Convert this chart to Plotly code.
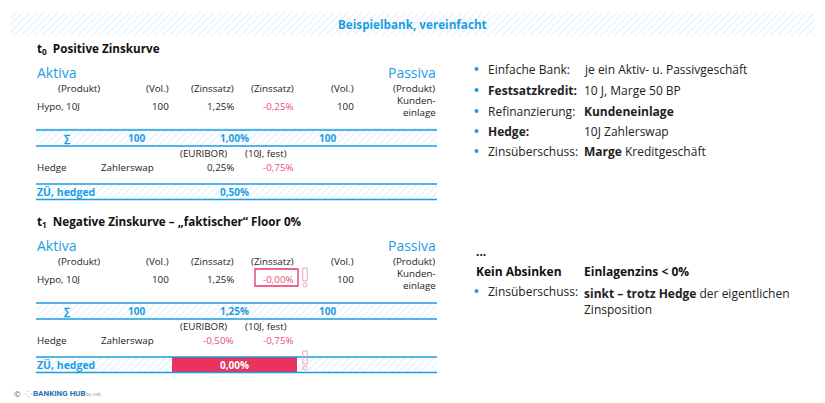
import plotly.graph_objects as go

# ---------------- data ----------------
title = "Beispielbank, vereinfacht"
section_titles = ["t<sub>0</sub>  Positive Zinskurve",
                  "t<sub>1</sub>  Negative Zinskurve – „faktischer“ Floor 0%"]
header = ["(Produkt)", "(Vol.)", "(Zinssatz)", "(Zinssatz)", "(Vol.)", "(Produkt)"]
asset_row_t0 = ["Hypo, 10J", "100", "1,25%", "-0,25%", "100", "Kunden-|einlage"]
asset_row_t1 = ["Hypo, 10J", "100", "1,25%", "-0,00%", "100", "Kunden-|einlage"]
sum_row_t0 = ["∑", "100", "1,00%", "100"]
sum_row_t1 = ["∑", "100", "1,25%", "100"]
hedge_header = ["(EURIBOR)", "(10J, fest)"]
hedge_row_t0 = ["Hedge", "Zahlerswap", "0,25%", "-0,75%"]
hedge_row_t1 = ["Hedge", "Zahlerswap", "-0,50%", "-0,75%"]
zu_label = "ZÜ, hedged"
zu_values = ["0,50%", "0,00%"]

bullets_top_labels = ["Einfache Bank:", "<b>Festsatzkredit:</b>", "Refinanzierung:",
                      "<b>Hedge:</b>", "Zinsüberschuss:"]
bullets_top_texts = ["je ein Aktiv- u. Passivgeschäft", "10 J, Marge 50 BP",
                     "<b>Kundeneinlage</b>", "10J Zahlerswap", "<b>Marge</b> Kreditgeschäft"]
bottom_head = ["<b>Kein Absinken</b>", "<b>Einlagenzins &lt; 0%</b>"]
bottom_bullet = ["Zinsüberschuss:", "<b>sinkt – trotz Hedge</b> der eigentlichen<br>Zinsposition"]

# ---------------- style ----------------
BLUE = "#1c9de3"
RED = "#e8335f"
PINK = "#ea4f7f"
LIGHT = "#cfe9f9"
FONT = "Open Sans"
W, H = 825, 403
TS = 9.8

fig = go.Figure()
ann = []
shapes = []


def text(x, y, s, size=TS, color="#222", xa="left", ya="middle", bold=False, family=FONT):
    if bold:
        s = "<b>" + s + "</b>"
    ann.append(dict(x=x, y=y, text=s, xref="x", yref="y", showarrow=False,
                    xanchor=xa, yanchor=ya, align=xa if xa != "center" else "center",
                    font=dict(size=size, color=color, family=family)))


def band(x0, x1, y0, y1, lines=True):
    fig.add_trace(go.Bar(x=[x1 - x0], base=[x0], y=[(y0 + y1) / 2], width=[y1 - y0],
                         orientation="h", showlegend=False, hoverinfo="skip",
                         marker=dict(color="white", line=dict(width=0),
                                     pattern=dict(shape="/", fgcolor=LIGHT, bgcolor="white",
                                                  size=5, solidity=0.3))))
    if lines:
        for yy in (y0, y1):
            shapes.append(dict(type="line", x0=x0, x1=x1, y0=yy, y1=yy, xref="x", yref="y",
                               line=dict(color=BLUE, width=1.5)))


def exclam(x, y):
    shapes.append(dict(type="rect", x0=x - 2.2, x1=x + 2.2, y0=y - 8, y1=y + 5,
                       xref="x", yref="y", line=dict(color="#f2a0b8", width=1)))
    shapes.append(dict(type="circle", x0=x - 2.2, x1=x + 2.2, y0=y + 7, y1=y + 11,
                       xref="x", yref="y", line=dict(color="#f2a0b8", width=1)))


# title band
band(10, 815, 12, 36, lines=False)
text(412, 24, title, size=11.7, color=BLUE, xa="center", bold=True)

col_right = [None, 171, 236, 296, 356, 437]


def section(y0, stitle, row, sumrow, hrow, zu, t1=False):
    text(35, y0, stitle, size=11.7, color="#111", bold=True)
    text(35, y0 + 24, "Aktiva", size=14, color=BLUE)
    text(438, y0 + 24, "Passiva", size=14, color=BLUE, xa="right")
    yh = y0 + 40
    text(79, yh, header[0], xa="center")
    for i in range(1, 6):
        text(col_right[i], yh, header[i], xa="right")
    yr = y0 + 58
    text(35, yr, row[0])
    for i in range(1, 5):
        text(col_right[i], yr, row[i], xa="right", color=PINK if i == 3 else "#222")
    l1, l2 = row[5].split("|")
    text(438, yr - 5.5, l1, xa="right")
    text(438, yr + 6.5, l2, xa="right")
    if t1:
        shapes.append(dict(type="rect", x0=255, x1=298, y0=yr - 10, y1=yr + 7,
                           xref="x", yref="y", line=dict(color=RED, width=1.3)))
        exclam(305, yr - 3)
    else:
        shapes.append(dict(type="line", x0=36, x1=437, y0=yr + 23, y1=yr + 23, xref="x", yref="y",
                           line=dict(color=LIGHT, width=1)))
    ys0 = y0 + 82
    band(36, 437, ys0, ys0 + 16)
    for xc, s in zip([67, 136, 234, 327], sumrow):
        text(xc, ys0 + 8, s, xa="center", color=BLUE, bold=True, size=10)
    yhh = ys0 + 23
    text(203, yhh, hedge_header[0], xa="center")
    text(266, yhh, hedge_header[1], xa="center")
    yhr = ys0 + 37
    text(35, yhr, hrow[0])
    text(99, yhr, hrow[1])
    text(236, yhr, hrow[2], xa="right", color=PINK if hrow[2].startswith("-") else "#222")
    text(296, yhr, hrow[3], xa="right", color=PINK)
    yz0 = ys0 + 54
    band(36, 437, yz0, yz0 + 15.5)
    if t1:
        fig.add_trace(go.Bar(x=[296.5 - 171.5], base=[171.5], y=[yz0 + 7.75], width=[15.5],
                             orientation="h", showlegend=False, hoverinfo="skip",
                             marker=dict(color=RED, line=dict(width=0))))
        text(234, yz0 + 8, zu, xa="center", color="white", bold=True, size=10)
        exclam(305, yz0 + 2)
    else:
        text(234, yz0 + 8, zu, xa="center", color=BLUE, bold=True, size=10)
    text(35, yz0 + 8, zu_label, color=BLUE, bold=True, size=10.5)


section(48, section_titles[0], asset_row_t0, sum_row_t0, hedge_row_t0, zu_values[0])
section(221, section_titles[1], asset_row_t1, sum_row_t1, hedge_row_t1, zu_values[1], t1=True)

# right side
RS = 12
ys = [69, 90, 111, 131, 151]
for y, lab, txt in zip(ys, bullets_top_labels, bullets_top_texts):
    shapes.append(dict(type="circle", x0=474.5, x1=478.5, y0=y - 2, y1=y + 2, xref="x", yref="y",
                       fillcolor=BLUE, line=dict(width=0)))
    text(486, y, lab, size=RS, color="#222")
    text(582, y, txt, size=RS, color="#222")

text(474, 251, "<b>...</b>", size=RS, color="#111")
text(474, 271, bottom_head[0], size=RS, color="#111")
text(582, 271, bottom_head[1], size=RS, color="#111")
shapes.append(dict(type="circle", x0=474.5, x1=478.5, y0=289, y1=293, xref="x", yref="y",
                   fillcolor=BLUE, line=dict(width=0)))
text(486, 291, bottom_bullet[0], size=RS, color="#222")
text(582, 283, bottom_bullet[1], size=RS, color="#222", ya="top")

# footer
text(12, 393, "©", size=8, color="#555")
text(23, 393, "⁘", size=8, color=BLUE)
text(31, 393, "<b>BANKING HUB</b>", size=8, color="#2a6fb0", family="Roboto")
text(84, 394, "by zeb", size=5, color="#999")

fig.update_layout(
    width=W, height=H, margin=dict(l=0, r=0, t=0, b=0),
    paper_bgcolor="white", plot_bgcolor="white", bargap=0, barmode="overlay",
    xaxis=dict(range=[0, W], visible=False, fixedrange=True),
    yaxis=dict(range=[H, 0], visible=False, fixedrange=True),
    annotations=ann, shapes=shapes, showlegend=False,
)
fig.write_html("out.html", config={"displayModeBar": False},
               post_script="document.body.style.margin='0';")
